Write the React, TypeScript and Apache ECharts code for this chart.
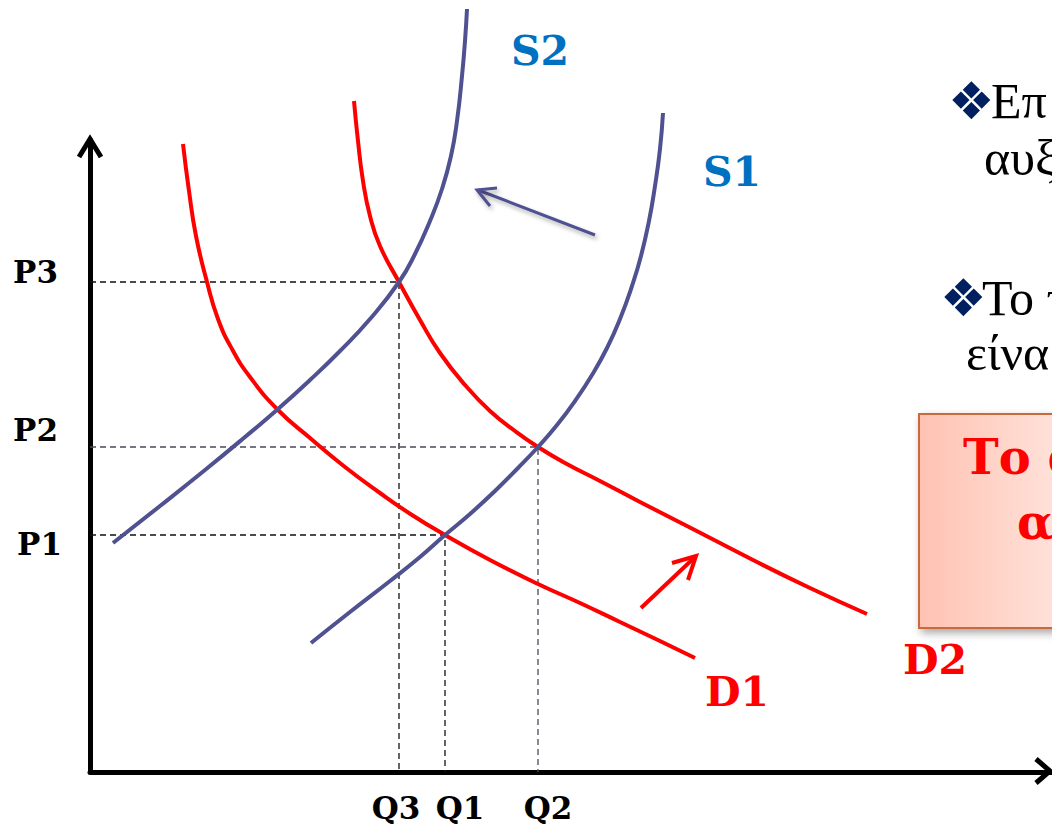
import React, { useEffect, useRef } from "react";
import * as echarts from "echarts";

// Equilibrium levels (data units: quantity on x, price on y)
const priceLabels = ["P1", "P2", "P3"];
const eqPrice = [23.7, 32.5, 49.0];
const quantityLabels = ["Q1", "Q2", "Q3"];
const eqQuantity = [35.5, 44.8, 30.9];

// Curves
const demand1 = [
  [9.3, 62.8], [9.9, 58.1], [10.6, 53.6], [11.7, 49.0], [12.8, 45.3], [14.2, 42.3],
  [16.0, 39.5], [18.8, 36.2], [22.0, 33.4], [25.5, 30.5], [29.0, 27.9], [32.2, 25.7],
  [35.5, 23.7], [40.0, 21.2], [44.8, 18.8], [49.0, 16.9], [53.0, 15.0], [57.0, 13.1],
  [60.5, 11.4],
];
const demand2 = [
  [26.4, 67.1], [26.8, 63.1], [27.3, 59.1], [28.0, 55.6], [29.0, 52.6], [30.9, 49.0],
  [33.0, 45.2], [35.0, 41.9], [37.5, 38.7], [40.0, 36.1], [42.5, 34.1], [44.8, 32.5],
  [47.5, 30.9], [51.0, 29.1], [55.0, 27.0], [59.7, 24.6], [66.3, 21.2], [72.0, 18.4],
  [77.7, 15.8],
];
const supply1 = [
  [22.1, 12.9], [26.0, 16.0], [30.0, 19.1], [33.0, 21.5], [35.5, 23.7], [38.0, 25.8],
  [40.5, 28.1], [42.8, 30.4], [44.8, 32.5], [46.7, 34.7], [48.5, 37.1], [50.2, 39.7],
  [51.7, 42.4], [53.0, 45.3], [54.2, 48.6], [55.1, 51.6], [55.9, 55.1], [56.5, 58.6],
  [57.0, 62.3], [57.3, 65.9],
];
const supply2 = [
  [2.3, 22.9], [7.0, 26.6], [11.5, 30.2], [15.5, 33.5], [18.8, 36.3], [22.0, 39.2],
  [25.0, 42.1], [28.0, 45.3], [30.9, 49.0], [32.5, 51.8], [34.0, 55.1], [35.2, 58.3],
  [36.1, 61.6], [36.7, 65.1], [37.2, 69.6], [37.5, 73.1], [37.7, 76.3],
];

const curveNames = ["D1", "D2", "S1", "S2"];
const curveData = [demand1, demand2, supply1, supply2];

const RED = "#FF0000";
const SUPPLY = "#4F5190";
const LABEL_BLUE = "#0070C0";
const NAVY = "#002060";

export default function App() {
  const ref = useRef<HTMLDivElement>(null);

  useEffect(() => {
    if (!ref.current) return;
    const chart = echarts.init(ref.current, undefined, { renderer: "svg" });

    const labelFont = {
      fontFamily: "DejaVu Serif",
      fontWeight: "bold" as const,
      fontSize: 31,
      color: "#000",
    };

    const dashed = eqPrice.map((p, i) => ({
      type: "line",
      name: priceLabels[i] + quantityLabels[i],
      data: [[0, p], [eqQuantity[i], p], [eqQuantity[i], 0]],
      symbol: "none",
      silent: true,
      z: 1,
      lineStyle: { type: [6, 4], width: 1.3, color: i === 1 ? "#4a4a5a" : "#111" },
    }));

    const curves = curveData.map((d, i) => ({
      type: "line",
      name: curveNames[i],
      data: d,
      smooth: 0.5,
      symbol: "none",
      clip: false,
      z: 3,
      lineStyle: { width: 4, color: i < 2 ? RED : SUPPLY },
    }));

    const serifBold = (size: number) => `bold ${size}px "DejaVu Serif"`;
    const times = (size: number) => `${size}px "Liberation Serif"`;

    chart.setOption({
      animation: false,
      grid: { left: 90, right: 0, top: 140, bottom: 58 },
      xAxis: {
        type: "value",
        min: 0,
        max: 96.2,
        splitLine: { show: false },
        axisTick: { show: false },
        axisLine: { show: true, onZero: false, lineStyle: { color: "#000", width: 5 } },
        axisLabel: {
          customValues: eqQuantity,
          margin: 20,
          formatter: (v: number) => {
            const i = eqQuantity.indexOf(v);
            return `{${quantityLabels[i].toLowerCase()}|${quantityLabels[i]}}`;
          },
          rich: {
            q1: { ...labelFont, padding: [0, 0, 0, 30] },
            q2: { ...labelFont, padding: [0, 0, 0, 20] },
            q3: { ...labelFont, padding: [0, 6, 0, 0] },
          },
        },
      },
      yAxis: {
        type: "value",
        min: 0,
        max: 63.2,
        splitLine: { show: false },
        axisTick: { show: false },
        axisLine: { show: true, onZero: false, lineStyle: { color: "#000", width: 5 } },
        axisLabel: {
          customValues: eqPrice,
          margin: 28,
          formatter: (v: number) => {
            const i = eqPrice.indexOf(v);
            return `{${priceLabels[i].toLowerCase()}|${priceLabels[i]}}`;
          },
          rich: {
            p1: { ...labelFont, padding: [18, 0, 0, 0] },
            p2: { ...labelFont, padding: [0, 4, 34, 0] },
            p3: { ...labelFont, padding: [0, 4, 20, 0] },
          },
        },
      },
      series: [...dashed, ...curves],
      graphic: [
        // axis arrowheads
        { type: "polyline", shape: { points: [[79, 157], [90, 139], [101, 157]] }, style: { stroke: "#000", lineWidth: 5, fill: "none" }, z: 10 },
        { type: "polyline", shape: { points: [[1036, 759], [1050, 771], [1036, 783]] }, style: { stroke: "#000", lineWidth: 5, fill: "none" }, z: 10 },
        // supply shift arrow
        {
          type: "group",
          z: 10,
          children: [
            { type: "line", shape: { x1: 595, y1: 235, x2: 478, y2: 190 }, style: { stroke: SUPPLY, lineWidth: 3, shadowBlur: 4, shadowOffsetX: 2, shadowOffsetY: 3, shadowColor: "rgba(0,0,0,0.3)" } },
            { type: "polyline", shape: { points: [[497, 188], [477, 190], [490, 206]] }, style: { stroke: SUPPLY, lineWidth: 3, fill: "none", shadowBlur: 4, shadowOffsetX: 2, shadowOffsetY: 3, shadowColor: "rgba(0,0,0,0.3)" } },
          ],
        },
        // demand shift arrow
        {
          type: "group",
          z: 10,
          children: [
            { type: "line", shape: { x1: 641, y1: 608, x2: 695, y2: 557 }, style: { stroke: RED, lineWidth: 4 } },
            { type: "polyline", shape: { points: [[672, 563], [696, 556], [688, 580]] }, style: { stroke: RED, lineWidth: 4, fill: "none" } },
          ],
        },
        // curve labels
        { type: "text", style: { text: "S2", x: 540, y: 51, align: "center", verticalAlign: "middle", font: serifBold(41), fill: LABEL_BLUE } },
        { type: "text", style: { text: "S1", x: 732, y: 172, align: "center", verticalAlign: "middle", font: serifBold(41), fill: LABEL_BLUE } },
        { type: "text", style: { text: "D1", x: 737, y: 692, align: "center", verticalAlign: "middle", font: serifBold(41), fill: RED } },
        { type: "text", style: { text: "D2", x: 935, y: 660, align: "center", verticalAlign: "middle", font: serifBold(41), fill: RED } },
        // slide text on the right (cut off by the edge, as in the original slide)
        { type: "text", style: { text: "❖", x: 948, y: 101, align: "left", verticalAlign: "middle", font: `52px "DejaVu Sans"`, fill: NAVY } },
        { type: "text", style: { text: "Επ", x: 991, y: 101, align: "left", verticalAlign: "middle", font: times(50), fill: "#000" } },
        { type: "text", style: { text: "αυξ", x: 984, y: 158, align: "left", verticalAlign: "middle", font: times(50), fill: "#000" } },
        { type: "text", style: { text: "❖", x: 940, y: 298, align: "left", verticalAlign: "middle", font: `52px "DejaVu Sans"`, fill: NAVY } },
        { type: "text", style: { text: "Το τ", x: 982, y: 298, align: "left", verticalAlign: "middle", font: times(50), fill: "#000" } },
        { type: "text", style: { text: "είνα", x: 966, y: 353, align: "left", verticalAlign: "middle", font: times(50), fill: "#000" } },
        // highlighted box
        {
          type: "rect",
          z: 5,
          shape: { x: 919, y: 414, width: 140, height: 214 },
          style: {
            fill: new echarts.graphic.LinearGradient(0, 0, 1, 0, [
              { offset: 0, color: "#FFC2B2" },
              { offset: 1, color: "#FFE2DA" },
            ]),
            stroke: "#C86B3C",
            lineWidth: 2,
            shadowBlur: 8,
            shadowOffsetX: 3,
            shadowOffsetY: 4,
            shadowColor: "rgba(0,0,0,0.35)",
          },
        },
        { type: "text", z: 6, style: { text: "Το α", x: 963, y: 457, align: "left", verticalAlign: "middle", font: serifBold(48), fill: RED } },
        { type: "text", z: 6, style: { text: "α", x: 1017, y: 522, align: "left", verticalAlign: "middle", font: serifBold(48), fill: RED } },
      ],
    });

    return () => chart.dispose();
  }, []);

  return (
    <div
      ref={ref}
      style={{ position: "absolute", left: 0, top: 0, width: 1052, height: 830, background: "#fff" }}
    />
  );
}
